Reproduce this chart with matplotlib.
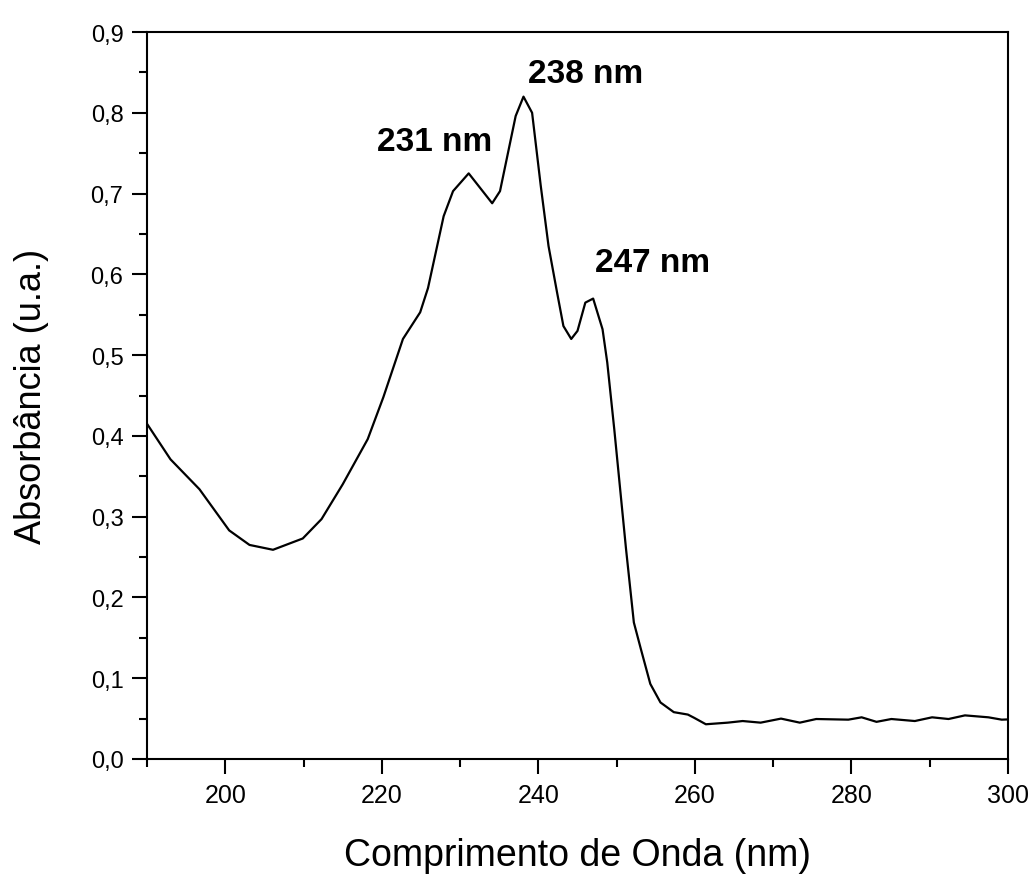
import matplotlib
matplotlib.use("Agg")
import matplotlib.pyplot as plt
from matplotlib.ticker import MultipleLocator, FuncFormatter

# wavelength (nm) and absorbance
wavelength = [190.0, 193.0, 196.7, 200.5, 203.1, 206.1, 209.9, 212.3, 215.0, 218.2,
              220.2, 222.7, 224.9, 225.9, 227.9, 229.1, 231.1, 234.1, 235.1, 237.1,
              238.1, 239.2, 240.3, 241.3, 242.4, 243.2, 244.2, 245.0, 246.0, 247.0,
              248.2, 248.8, 249.7, 251.2, 252.2, 253.1, 254.3, 255.6, 257.3, 259.1,
              259.9, 261.4, 264.2, 266.1, 268.4, 271.0, 273.4, 275.5, 279.6, 281.3,
              283.2, 285.1, 288.1, 290.3, 292.4, 294.5, 297.5, 299.2, 300.0]
absorbance = [0.415, 0.371, 0.334, 0.283, 0.265, 0.259, 0.273, 0.297, 0.340, 0.396,
              0.448, 0.520, 0.553, 0.583, 0.672, 0.703, 0.725, 0.688, 0.703, 0.796,
              0.820, 0.800, 0.710, 0.635, 0.577, 0.536, 0.520, 0.530, 0.565, 0.570,
              0.532, 0.491, 0.408, 0.260, 0.169, 0.136, 0.093, 0.070, 0.058, 0.055,
              0.051, 0.043, 0.045, 0.047, 0.045, 0.050, 0.045, 0.0495, 0.0487, 0.0516,
              0.046, 0.0495, 0.047, 0.0516, 0.0495, 0.054, 0.0516, 0.0487, 0.049]

peak_labels = ["231 nm", "238 nm", "247 nm"]
label_x = [226.8, 246.0, 254.6]
label_y = [0.764, 0.849, 0.615]

plt.rcParams['font.family'] = ['Liberation Sans', 'DejaVu Sans']

fig = plt.figure(figsize=(10.33, 8.78), dpi=100)
ax = fig.add_axes([0.1423, 0.1344, 0.9758 - 0.1423, 0.9624 - 0.1344])

ax.plot(wavelength, absorbance, color='black', lw=1.6)

ax.set_xlim(190, 300)
ax.set_ylim(0, 0.9)
ax.xaxis.set_major_locator(MultipleLocator(20))
ax.xaxis.set_minor_locator(MultipleLocator(10))
ax.yaxis.set_major_locator(MultipleLocator(0.1))
ax.yaxis.set_minor_locator(MultipleLocator(0.05))
ax.xaxis.set_major_formatter(FuncFormatter(lambda v, p: '' if v < 195 else '%d' % v))
ax.yaxis.set_major_formatter(FuncFormatter(lambda v, p: ('%.1f' % v).replace('.', ',')))

for s in ax.spines.values():
    s.set_linewidth(1.5)
ax.tick_params(which='major', direction='out', length=11, width=1.5, pad=6)
ax.tick_params(which='minor', direction='out', length=6, width=1.5)
ax.tick_params(top=False, right=False)
ax.tick_params(axis='x', labelsize=18)
ax.tick_params(axis='y', labelsize=17)

ax.set_xlabel('Comprimento de Onda (nm)', fontsize=27, labelpad=22)
ax.set_ylabel('Absorbância (u.a.)', fontsize=26, labelpad=30)

for t, x, y in zip(peak_labels, label_x, label_y):
    ax.text(x, y, t, ha='center', va='center', fontsize=24, fontweight='bold')

fig.savefig('out.png', dpi=100)
